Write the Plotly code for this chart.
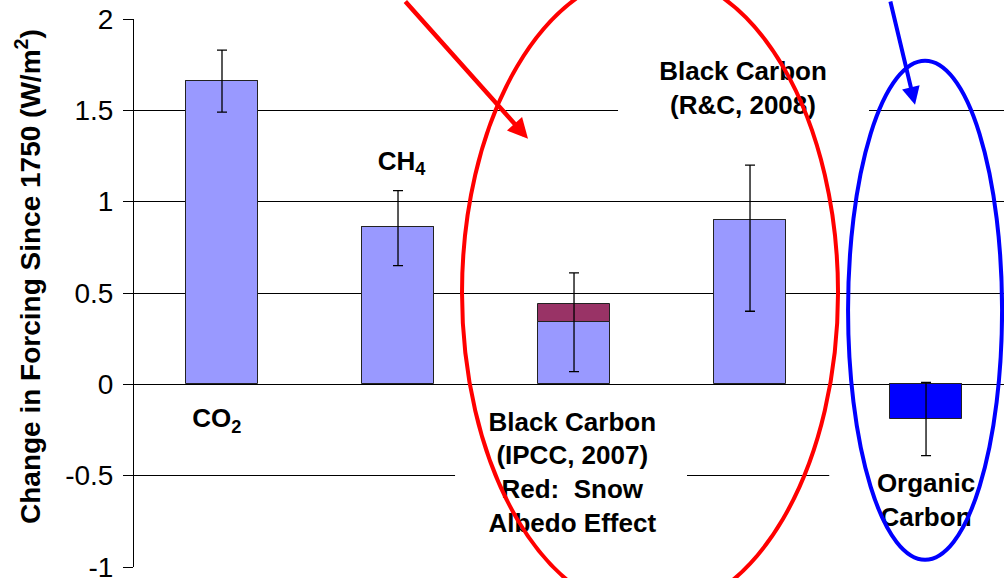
import plotly.graph_objects as go

# ---- data ----
categories = ["CO2", "CH4", "BC (IPCC, 2007)", "BC (R&C, 2008)", "Organic Carbon"]
x_pos = [0, 1, 2, 3, 4]
base_values = [1.66, 0.86, 0.34, 0.90, -0.19]
snow_albedo = [0, 0, 0.10, 0, 0]
err_center = [1.66, 0.86, 0.34, 0.90, -0.19]
err_plus = [0.17, 0.20, 0.27, 0.30, 0.20]
err_minus = [0.17, 0.21, 0.27, 0.50, 0.20]
bar_colors = ["#9999FF", "#9999FF", "#9999FF", "#9999FF", "#0000FF"]

label_text = [
    "CO<sub>2</sub>",
    "CH<sub>4</sub>",
    "Black Carbon<br>(IPCC, 2007)<br>Red:\u00a0 Snow<br>Albedo Effect",
    "Black Carbon<br>(R&C, 2008)",
    "Organic<br>Carbon",
]
label_x = [-0.03, 1.02, 1.99, 2.96, 4.00]
label_y = [-0.20, 1.21, -0.495, 1.61, -0.645]

tick_vals = [2, 1.5, 1, 0.5, 0, -0.5, -1]
tick_text = ["2", "1.5", "1", "0.5", "0", "-0.5", "-1"]

x_range = [-0.5, 4.443]
y_range = [-1, 2]

FONT = "Liberation Sans, Arial, sans-serif"

fig = go.Figure()

fig.add_trace(go.Bar(
    x=x_pos, y=base_values, width=0.41,
    marker=dict(color=bar_colors, line=dict(color="#222222", width=1)),
    showlegend=False, hoverinfo="skip",
))
fig.add_trace(go.Bar(
    x=x_pos, y=snow_albedo, width=0.41,
    marker=dict(color="#993366", line=dict(color="#222222", width=1)),
    showlegend=False, hoverinfo="skip",
))
fig.add_trace(go.Scatter(
    x=x_pos, y=err_center, mode="markers",
    marker=dict(size=1, color="rgba(0,0,0,0)"),
    error_y=dict(type="data", symmetric=False, array=err_plus, arrayminus=err_minus,
                 color="#000000", thickness=1.3, width=5),
    showlegend=False, hoverinfo="skip",
))
fig.add_trace(go.Scatter(
    x=label_x, y=label_y, mode="text", text=label_text,
    textposition="middle center",
    textfont=dict(family=FONT, size=26, color="#000000", weight="bold"),
    showlegend=False, hoverinfo="skip", cliponaxis=False,
))

# white boxes behind text labels (hide gridlines)
white_boxes = [
    (2.25, 3.676, 1.42, 1.80),
    (1.324, 2.642, -0.85, -0.09),
    (3.45, 4.5, -0.82, -0.41),
]
for x0, x1, y0, y1 in white_boxes:
    fig.add_shape(type="rect", xref="x", yref="y", x0=x0, x1=x1, y0=y0, y1=y1,
                  fillcolor="white", line=dict(width=0), layer="between")


def to_paper_x(v):
    return (v - x_range[0]) / (x_range[1] - x_range[0])


def to_paper_y(v):
    return (v - y_range[0]) / (y_range[1] - y_range[0])


ellipses = [
    (1.3636, 3.5, -1.25, 2.253, "#FF0000"),
    (3.557, 4.432, -0.960, 1.771, "#0000FF"),
]
for x0, x1, y0, y1, col in ellipses:
    fig.add_shape(type="circle", xref="paper", yref="paper",
                  x0=to_paper_x(x0), x1=to_paper_x(x1),
                  y0=to_paper_y(y0), y1=to_paper_y(y1),
                  line=dict(color=col, width=4), layer="above")

# arrows
fig.add_annotation(x=1.7386, y=1.344, xref="x", yref="y", text="", showarrow=True,
                   ax=-124, ay=-139, arrowcolor="#FF0000", arrowwidth=4.5,
                   arrowhead=2, arrowsize=0.9, standoff=0)
fig.add_annotation(x=3.9375, y=1.530, xref="x", yref="y", text="", showarrow=True,
                   ax=-25, ay=-105, arrowcolor="#0000FF", arrowwidth=4,
                   arrowhead=2, arrowsize=0.9, standoff=0)

# y-axis title
fig.add_annotation(
    text="<b>Change in Forcing Since 1750 (W/m<sup>2</sup>)</b>",
    xref="paper", yref="paper", x=(28 - 134) / 870, y=(567 - 277) / 548,
    xanchor="center", yanchor="middle", textangle=-90, showarrow=False,
    font=dict(family=FONT, size=28, color="#000000"),
)

fig.update_layout(
    width=1004, height=578,
    margin=dict(l=134, r=0, t=19, b=11, autoexpand=False),
    paper_bgcolor="white", plot_bgcolor="white",
    barmode="relative", bargap=0,
    xaxis=dict(range=x_range, showgrid=False, zeroline=False, showticklabels=False,
               ticks="", showline=False, fixedrange=True, automargin=False),
    yaxis=dict(range=y_range, tickvals=tick_vals, ticktext=tick_text,
               showgrid=True, gridcolor="#000000", gridwidth=1,
               zeroline=False, showline=True, linecolor="#000000", linewidth=1,
               ticks="outside", ticklen=10, tickcolor="#000000", tickwidth=1,
               ticklabeloverflow="allow", automargin=False,
               tickfont=dict(family=FONT, size=28, color="#000000"), ticklabelstandoff=4),
)

fig.write_html("out.html")
